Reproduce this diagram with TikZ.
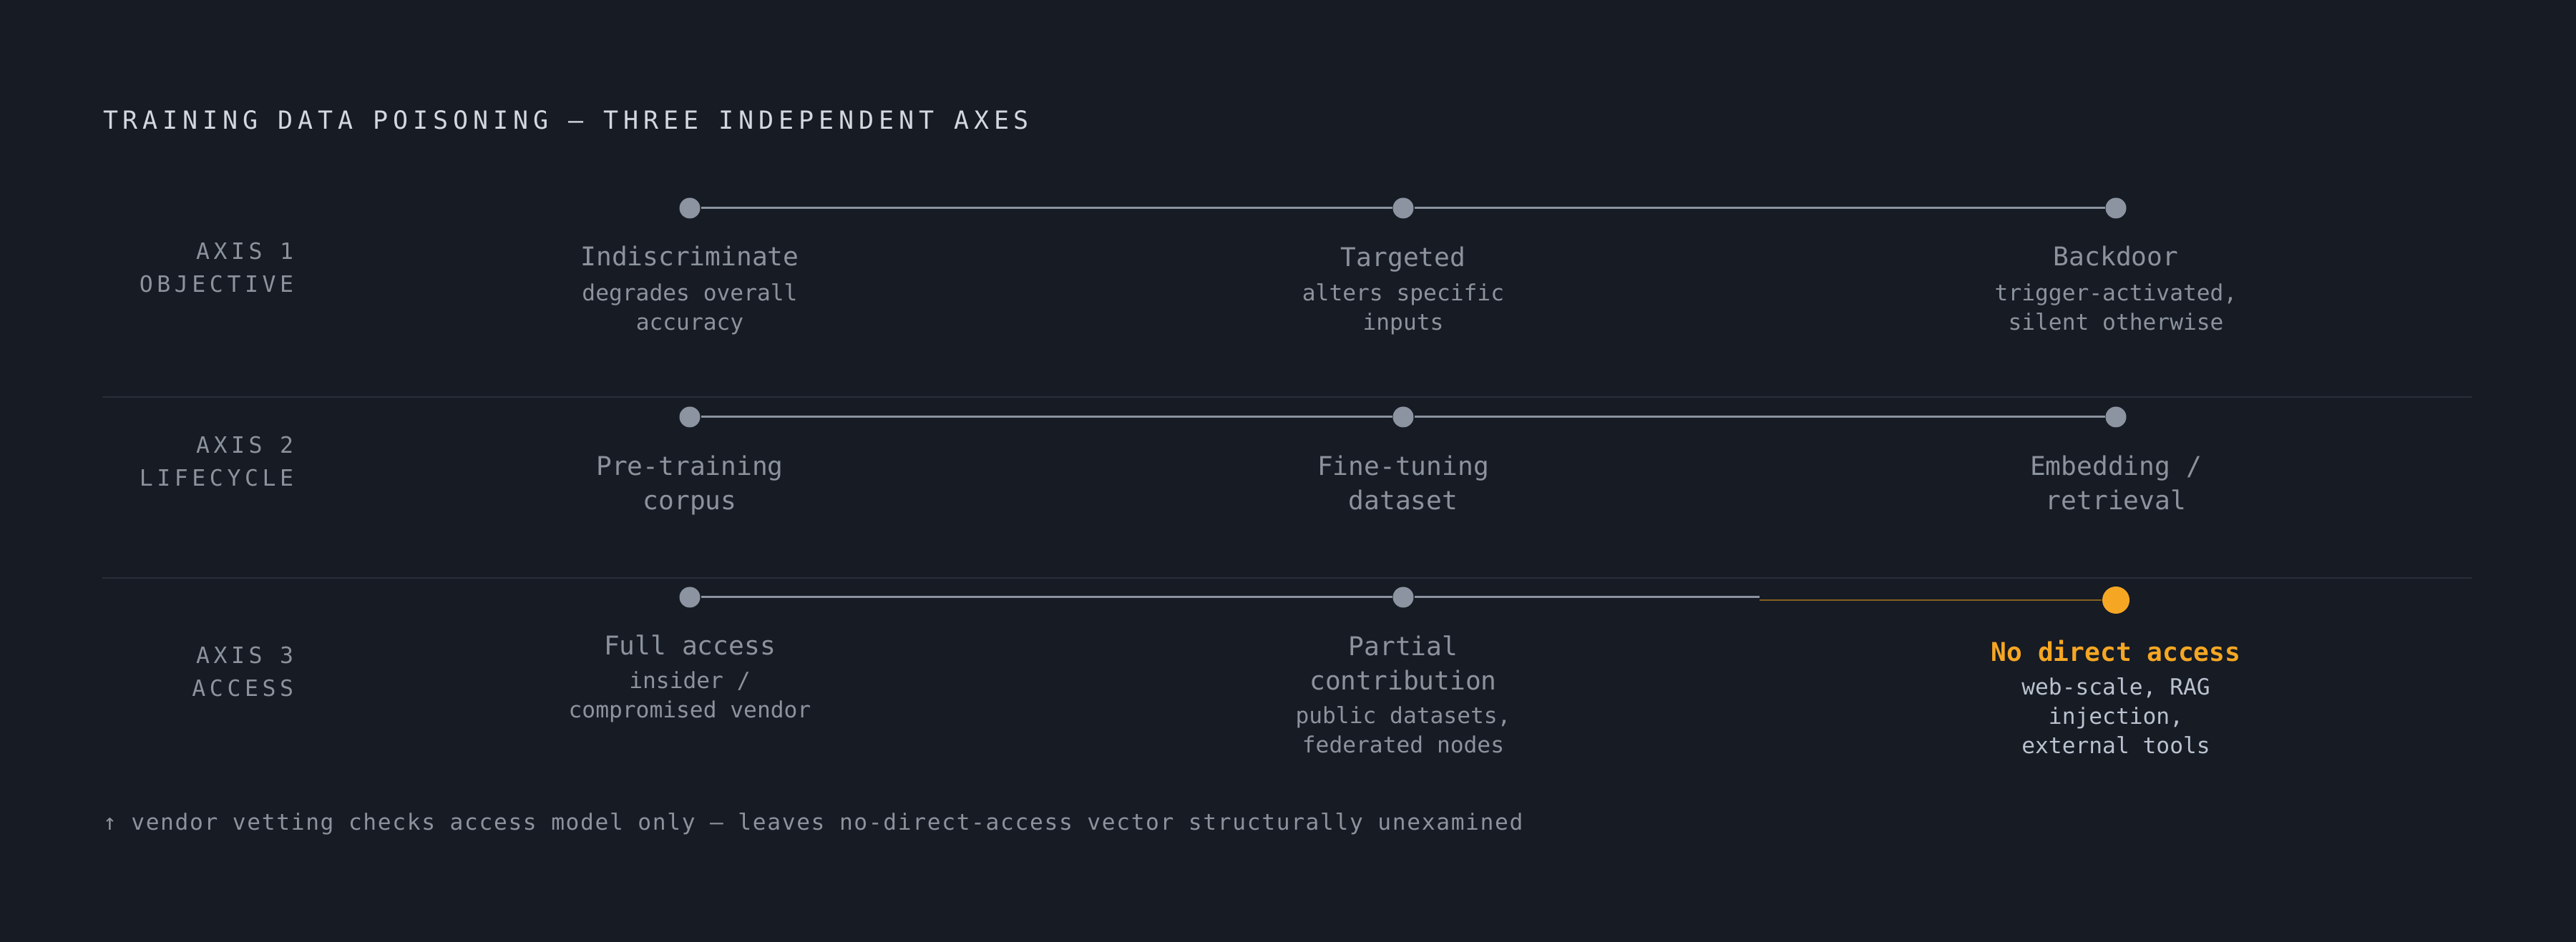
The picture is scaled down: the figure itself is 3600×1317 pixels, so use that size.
\documentclass[tikz,border=0pt]{standalone}
\usepackage{fontspec}
\setmainfont{DejaVu Sans Mono}
\newfontfamily\titlefont[LetterSpace=19.7]{DejaVu Sans Mono}
\newfontfamily\axisfont[LetterSpace=17.6]{DejaVu Sans Mono}
\newfontfamily\notefont[LetterSpace=5.3]{DejaVu Sans Mono}
\definecolor{bg}{HTML}{161B24}
\definecolor{ink}{HTML}{D3D8DE}
\definecolor{dotgray}{HTML}{8B94A0}
\definecolor{textgray}{HTML}{8C939D}
\definecolor{rulegray}{HTML}{282F39}
\definecolor{hot}{HTML}{F5A623}
\definecolor{hotdim}{HTML}{86611F}
\definecolor{hotsub}{HTML}{B9C2CE}
\begin{document}
\begin{tikzpicture}[x=0.2pt,y=-0.2pt,
    dot/.style={circle,fill=dotgray,inner sep=0pt,minimum size=5.8pt},
    hotdot/.style={circle,fill=hot,inner sep=0pt,minimum size=7.6pt},
    link/.style={dotgray,line width=0.6pt},
    hotlink/.style={hotdim,line width=0.55pt},
    sep/.style={rulegray,line width=0.5pt},
    axis/.style={anchor=east,align=right,text=textgray,inner sep=0pt,font=\axisfont\fontsize{6.3}{9.2}\selectfont},
    pick/.style={align=center,text=textgray,inner sep=0pt,font=\fontsize{7.24}{9.6}\selectfont},
    note/.style={align=center,text=textgray,inner sep=0pt,font=\fontsize{6.25}{8.2}\selectfont}]
        \fill[bg] (0,0) rectangle (3600,1317);
        \useasboundingbox (0,0) rectangle (3600,1317);
        % heading
        \node at (143,168) [anchor=west,inner sep=0pt,text=ink,font=\titlefont\fontsize{7}{8}\selectfont] (head) {TRAINING DATA POISONING — THREE INDEPENDENT AXES};
        % axis 1
        \node at (411,374) [axis] (ax1) {AXIS 1\\OBJECTIVE};
        \node at (964,291) [dot] (d11) {};
        \node at (1961,291) [dot] (d12) {};
        \node at (2957,291) [dot] (d13) {};
        \draw[link] (d11) -- (d12) -- (d13);
        \node at (964,358) [pick] (t11) {Indiscriminate};
        \node at (1961,363) [pick] (t12) {Targeted};
        \node at (2957,358) [pick] (t13) {Backdoor};
        \node at (964,432) [note] (s11) {degrades overall\\accuracy};
        \node at (1961,432) [note] (s12) {alters specific\\inputs};
        \node at (2957,429) [note] (s13) {trigger-activated,\\silent otherwise};
        \coordinate (r1a) at (143,555);
        \coordinate (r1b) at (3455,555);
        \draw[sep] (r1a) -- (r1b);
        % axis 2
        \node at (411,645) [axis] (ax2) {AXIS 2\\LIFECYCLE};
        \node at (964,583) [dot] (d21) {};
        \node at (1961,583) [dot] (d22) {};
        \node at (2957,583) [dot] (d23) {};
        \draw[link] (d21) -- (d22) -- (d23);
        \node at (964,679) [pick] (t21) {Pre-training\\corpus};
        \node at (1961,675) [pick] (t22) {Fine-tuning\\dataset};
        \node at (2957,675) [pick] (t23) {Embedding /\\retrieval};
        \coordinate (r2a) at (143,808);
        \coordinate (r2b) at (3455,808);
        \draw[sep] (r2a) -- (r2b);
        % axis 3
        \node at (411,939) [axis] (ax3) {AXIS 3\\ACCESS};
        \node at (964,835) [dot] (d31) {};
        \node at (1961,835) [dot] (d32) {};
        \node at (2957,839) [hotdot] (d33) {};
        \coordinate (m3) at (2459,835);
        \coordinate (m3h) at (2459,839);
        \draw[link] (d31) -- (d32) -- (m3);
        \draw[hotlink] (m3h) -- (d33);
        \node at (964,902) [pick] (t31) {Full access};
        \node at (1961,927) [pick] (t32) {Partial\\contribution};
        \node at (2957,910) [pick,text=hot,font=\bfseries\fontsize{7.24}{9.6}\selectfont] (t33) {No direct access};
        \node at (964,974) [note] (s31) {insider /\\compromised vendor};
        \node at (1961,1020) [note] (s32) {public datasets,\\federated nodes};
        \node at (2957,1001) [note,text=hotsub] (s33) {web-scale, RAG\\injection,\\external tools};
        % footnote
        \node at (143,1152) [anchor=west,inner sep=0pt,text=textgray,font=\notefont\fontsize{6.25}{8}\selectfont] (foot) {↑ vendor vetting checks access model only — leaves no-direct-access vector structurally unexamined};
\end{tikzpicture}
\end{document}
